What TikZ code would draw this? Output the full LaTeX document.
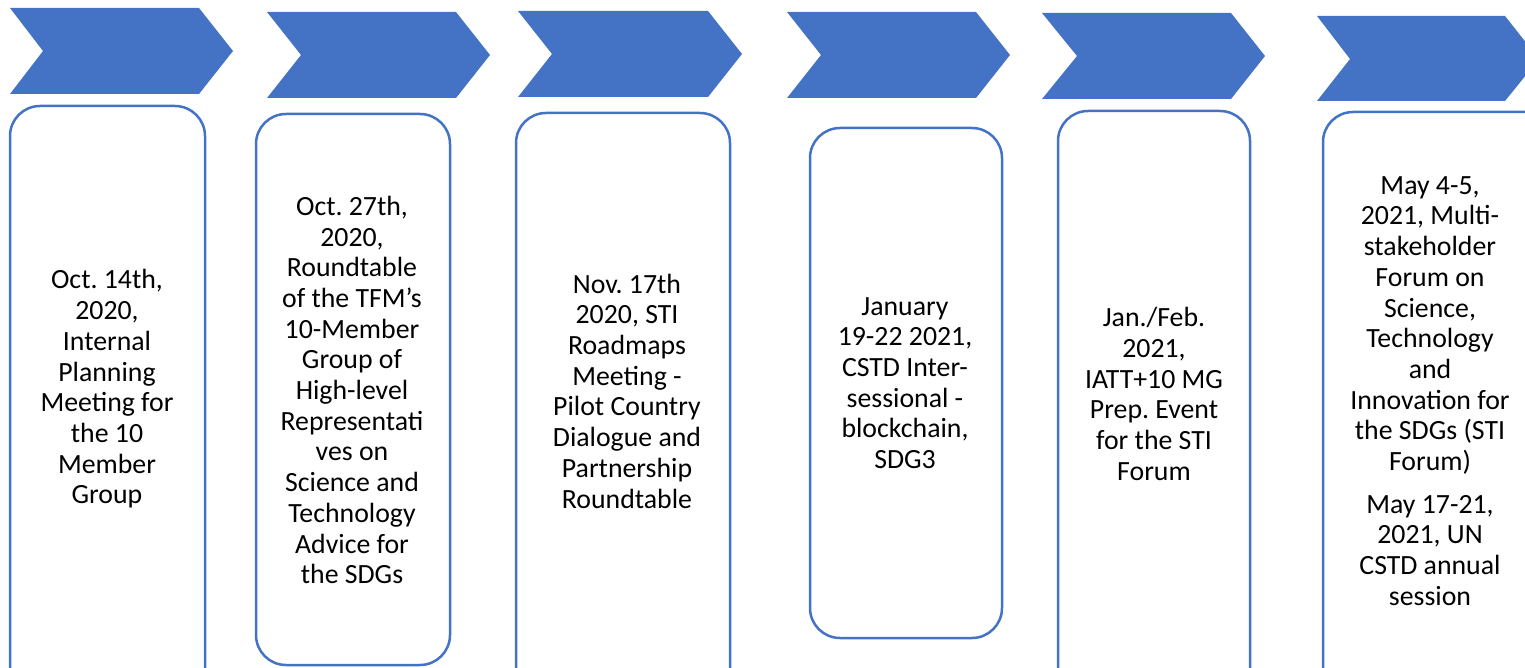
\documentclass[tikz,border=0pt]{standalone}
\usepackage{fontspec}
\setmainfont{Carlito}
\frenchspacing
\definecolor{offblue}{HTML}{4472C4}
\tikzset{
  chev/.style={fill=offblue, draw=none},
  evbox/.style={draw=offblue, line width=2.5pt, rounded corners=30pt},
  evtext/.style={align=center, font=\fontsize{27.8}{30.7}\selectfont, inner sep=0pt}
}
\begin{document}
\begin{tikzpicture}[x=1pt,y=-1pt]
\useasboundingbox (0,0) rectangle (1525,668);
\clip (0,0) rectangle (1525,668);
% chevrons
\path[chev] (10,8) -- (199,8) -- (233,51) -- (199,94) -- (10,94) -- (43,51) -- cycle;
\path[chev] (267,12) -- (456,12) -- (490,55) -- (456,98) -- (267,98) -- (301,55) -- cycle;
\path[chev] (518,11) -- (708,11) -- (742,54) -- (708,97) -- (518,97) -- (552,54) -- cycle;
\path[chev] (787,12) -- (976,12) -- (1010,55) -- (976,98) -- (787,98) -- (821,55) -- cycle;
\path[chev] (1042,13) -- (1231,13) -- (1265,56) -- (1231,99) -- (1042,99) -- (1077,56) -- cycle;
\path[chev] (1317,16) -- (1505,16) -- (1539,59) -- (1505,101) -- (1317,101) -- (1350,59) -- cycle;
% boxes
\draw[evbox] (10,106) rectangle (205,720);
\draw[evbox] (256,114) rectangle (450,665);
\draw[evbox] (516,113) rectangle (730,720);
\draw[evbox] (810,128) rectangle (1002,638);
\draw[evbox] (1058,111) rectangle (1250,720);
\draw[evbox] (1323,112) rectangle (1560,720);
% texts
\node[evtext] (t1) at (107,389) {Oct. 14th,\\2020,\\Internal\\Planning\\Meeting for\\the 10\\Member\\Group};
\node[evtext] (t2) at (352,390) {Oct. 27th,\\2020,\\Roundtable\\of the TFM’s\\10-Member\\Group of\\High-level\\Representati\\ves on\\Science and\\Technology\\Advice for\\the SDGs};
\node[evtext] (t3) at (627,391) {Nov. 17th\\2020, STI\\Roadmaps\\Meeting -\\Pilot Country\\Dialogue and\\Partnership\\Roundtable};
\node[evtext] (t4) at (905,383) {January\\19-22 2021,\\CSTD Inter-\\sessional -\\blockchain,\\SDG3};
\node[evtext] (t5) at (1154,394) {Jan./Feb.\\2021,\\IATT+10 MG\\Prep. Event\\for the STI\\Forum};
\node[evtext] (t6) at (1430,391) {May 4-5,\\2021, Multi-\\stakeholder\\Forum on\\Science,\\Technology\\and\\Innovation for\\the SDGs (STI\\Forum)\\[12pt]May 17-21,\\2021, UN\\CSTD annual\\session};
\end{tikzpicture}
\end{document}
